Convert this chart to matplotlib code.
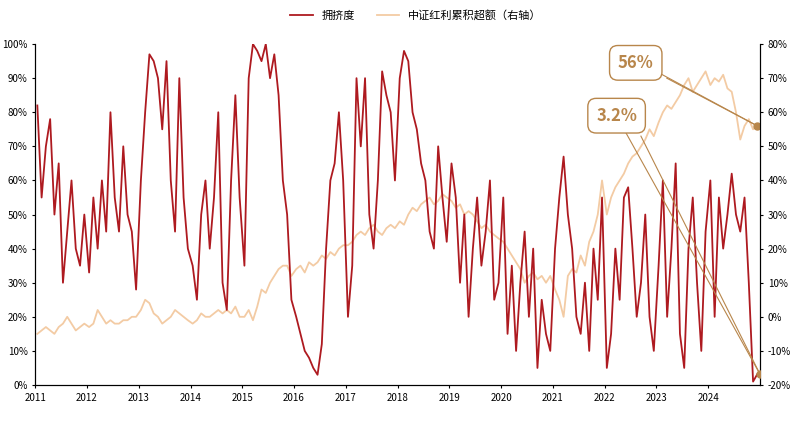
import matplotlib
matplotlib.use("Agg")
import matplotlib.pyplot as plt
import numpy as np

plt.rcParams["font.family"] = ["Noto Sans CJK SC"]

years = list(range(2011, 2025))
crowd = [
 [82,55,70,78,50,65,30,45,60,40,35,50],
 [33,55,40,60,45,80,55,45,70,50,45,28],
 [60,80,97,95,90,75,95,60,45,90,55,40],
 [35,25,50,60,40,55,80,30,22,60,85,55],
 [35,90,100,98,95,100,90,97,85,60,50,25],
 [20,15,10,8,5,3,12,40,60,65,80,60],
 [20,35,90,70,90,50,40,60,92,85,80,60],
 [90,98,95,80,75,65,60,45,40,70,55,42],
 [65,55,30,50,20,40,55,35,45,60,25,30],
 [55,15,35,10,30,45,20,40,5,25,15,10],
 [40,55,67,50,40,20,15,30,10,40,25,55],
 [5,15,40,25,55,58,40,20,30,50,20,10],
 [35,60,20,40,65,15,5,40,55,30,10,45],
 [60,20,55,40,50,62,50,45,55,30,1,3.2],
]
excess = [
 [-5,-4,-3,-4,-5,-3,-2,0,-2,-4,-3,-2],
 [-3,-2,2,0,-2,-1,-2,-2,-1,-1,0,0],
 [2,5,4,1,0,-2,-1,0,2,1,0,-1],
 [-2,-1,1,0,0,1,2,1,2,1,3,0],
 [0,2,-1,3,8,7,10,12,14,15,15,12],
 [14,15,13,16,15,16,18,17,19,18,20,21],
 [21,22,24,25,24,26,27,25,24,26,27,26],
 [28,27,30,32,31,33,34,35,33,34,36,35],
 [34,32,33,30,31,30,28,26,27,25,24,23],
 [22,20,18,16,14,10,12,13,11,12,10,12],
 [8,5,0,12,14,13,18,15,22,25,30,40],
 [30,35,38,40,42,45,47,48,50,52,55,53],
 [57,60,62,61,63,65,68,70,66,68,70,72],
 [68,70,69,71,67,66,60,52,56,58,55,56],
]
x = np.array([y + (m + 0.5) / 12 * 0.99 for y in years for m in range(12)])
c = np.array(crowd).ravel()
e = np.array(excess).ravel()

red = "#AE1A20"; beige = "#F3CBA4"; gold = "#B8864B"
fig = plt.figure(figsize=(8, 4.24), dpi=100)
ax = fig.add_axes([0.044, 0.092, 0.906, 0.804])
ax2 = ax.twinx()
ax2.plot(x, e, color=beige, lw=1.3, label="中证红利累积超额（右轴）")
ax.plot(x, c, color=red, lw=1.3, label="拥挤度")
ax.set_zorder(ax2.get_zorder() + 1); ax.patch.set_visible(False)
ax.set_xlim(2011, 2025); ax.set_ylim(0, 100); ax2.set_ylim(-20, 80)
ax.set_xticks(years); ax.set_xticklabels([str(y) for y in years])
ax.set_yticks(range(0, 101, 10)); ax.set_yticklabels([f"{v}%" for v in range(0, 101, 10)])
ax2.set_yticks(range(-20, 81, 10)); ax2.set_yticklabels([f"{v}%" for v in range(-20, 81, 10)])
for a in (ax, ax2):
    a.tick_params(labelsize=7, length=2)
    a.spines["top"].set_visible(False)

# annotations
px, py_r = x[-1], e[-1]
ax2.plot([2022.75, px], [74, py_r], color=gold, lw=0.8)
ax2.plot([2023.2, px], [70, py_r], color=gold, lw=0.8)
ax2.scatter([px], [py_r], color=gold, s=25, zorder=5)
ax2.text(2022.6, 74.5, "56%", fontsize=12, fontweight="bold", color=gold, ha="center", va="center",
         bbox=dict(boxstyle="round,pad=0.5", fc="white", ec=gold, lw=1))
ax.plot([2022.3, px + 0.05], [77, c[-1]], color=gold, lw=0.8)
ax.plot([2022.7, px + 0.05], [73, c[-1]], color=gold, lw=0.8)
ax.scatter([px + 0.05], [c[-1]], color=gold, s=25, zorder=5)
ax.text(2022.23, 79, "3.2%", fontsize=12, fontweight="bold", color=gold, ha="center", va="center",
        bbox=dict(boxstyle="round,pad=0.5", fc="white", ec=gold, lw=1))

h1, l1 = ax.get_legend_handles_labels(); h2, l2 = ax2.get_legend_handles_labels()
fig.legend(h1 + h2, l1 + l2, loc="upper center", bbox_to_anchor=(0.52, 1.0), ncol=2, frameon=False, fontsize=8)
fig.savefig("out.png", dpi=100)
